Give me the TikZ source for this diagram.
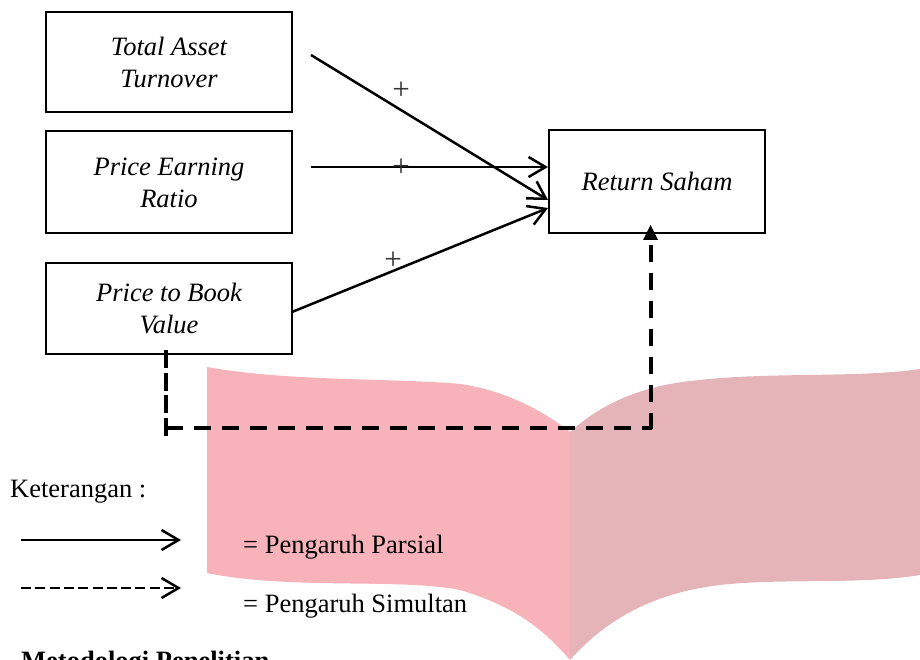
\documentclass[tikz,border=0pt]{standalone}
\usepackage{fontspec}
\setmainfont{Liberation Serif}
\usetikzlibrary{arrows.meta}
\definecolor{pageL}{HTML}{F7B3B9}
\definecolor{pageR}{HTML}{E5B4B8}
\tikzset{
  x=1pt,y=-1pt,
  txt/.style={font=\fontsize{26.5}{32}\selectfont,inner sep=0pt},
  boxn/.style={draw,line width=2.5pt,inner sep=0pt,align=center,font=\fontsize{26.5}{32}\selectfont\itshape},
  plusn/.style={font=\fontsize{31}{31}\selectfont,inner sep=0pt,text=black!80},
  openarrow/.style={line width=2.5pt,-{Straight Barb[length=17pt,width=20pt,line width=2.5pt]}},
  dashline/.style={line width=4pt},
  legdash/.style={line width=2.5pt,dash pattern=on 10pt off 4.3pt,-{Straight Barb[length=17pt,width=20pt,line width=2.5pt]}}
}
\begin{document}
\begin{tikzpicture}
\useasboundingbox (0,0) rectangle (920,660);
% book
\fill[pageL] (207,367) .. controls (290,382) and (400,378) .. (460,384) .. controls (505,390) and (545,412) .. (570,432) -- (570,660) .. controls (540,625) and (510,605) .. (460,590) .. controls (400,578) and (290,590) .. (207,573) -- cycle;
\fill[pageR] (570,432) .. controls (600,405) and (640,385) .. (700,380) .. controls (770,372) and (860,378) .. (920,369) -- (920,575) .. controls (860,585) and (780,578) .. (720,585) .. controls (660,592) and (610,615) .. (570,660) -- cycle;
% boxes
\node[boxn,minimum width=246pt,minimum height=100pt,text height=55.5pt,text depth=4.5pt] (tat) at (169,62) {Total Asset\\Turnover};
\node[boxn,minimum width=246pt,minimum height=102pt,text height=60.5pt,text depth=9.5pt] (per) at (169,182) {Price Earning\\Ratio};
\node[boxn,minimum width=246pt,minimum height=91pt,text height=55pt,text depth=5pt] (pbv) at (169,308.5) {Price to Book\\Value};
\node[boxn,minimum width=216pt,minimum height=103pt,text height=29.2pt,text depth=10.8pt] (rs) at (657,181.5) {Return Saham};
% free ends
\coordinate (a1) at (311,55);
\coordinate (a2) at (311,167);
\coordinate (e1) at (548,200);
\coordinate (e2) at (548,167);
\coordinate (e3) at (548,208);
\coordinate (a3) at (292,312);
\draw[openarrow] (a1) -- (e1);
\draw[openarrow] (a2) -- (e2);
\draw[openarrow] (a3) -- (e3);
\node[plusn] (p1) at (401,91) {+};
\node[plusn] (p2) at (401,168) {+};
\node[plusn] (p3) at (393,261) {+};
% simultaneous
\coordinate (d0) at (166,350);
\coordinate (d1) at (166,437);
\coordinate (d2) at (166,428);
\coordinate (d3) at (652,428);
\coordinate (d5) at (650.5,429);
\coordinate (d4) at (650.5,245);
\draw[dashline,dash pattern=on 18pt off 4.5pt] (d0) -- (d1);
\draw[dashline,dash pattern=on 16.5pt off 11.5pt] (d2) -- (d3);
\draw[dashline,dash pattern=on 17pt off 11pt] (d4) -- (d5);
\fill (650.5,225) -- (658,240) -- (643,240) -- cycle;
% legend
\node[txt,anchor=base west] (ket) at (10,497) {Keterangan :};
\coordinate (l1) at (21,540);
\coordinate (l2) at (181,540);
\coordinate (m1) at (21,588);
\coordinate (m2) at (181,588);
\draw[openarrow] (l1) -- (l2);
\draw[legdash] (m1) -- (m2);
\node[txt,anchor=base west] (parsial) at (243,553) {= Pengaruh Parsial};
\node[txt,anchor=base west] (simultan) at (243,612) {= Pengaruh Simultan};
\node[txt,anchor=base west,font=\fontsize{26.5}{32}\selectfont\bfseries] (met) at (21,669.5) {Metodologi Penelitian};
\end{tikzpicture}
\end{document}
